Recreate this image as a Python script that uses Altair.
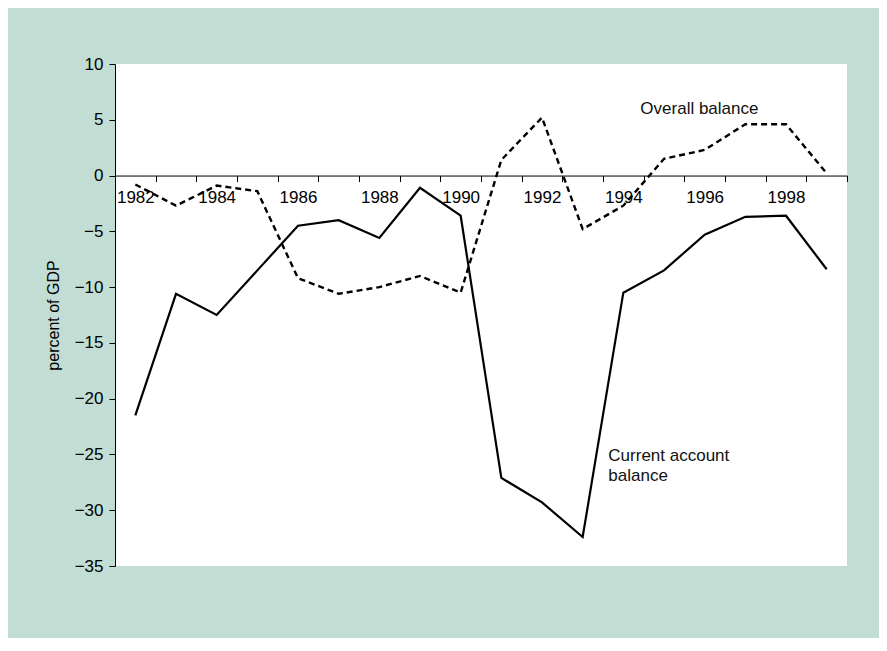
import altair as alt
import pandas as pd

years = list(range(1982, 2000))
current_account = [-21.5, -10.6, -12.5, -8.5, -4.5, -4.0, -5.6, -1.1, -3.6,
                   -27.1, -29.3, -32.4, -10.5, -8.5, -5.3, -3.7, -3.6, -8.4]
overall_balance = [-0.8, -2.7, -0.9, -1.4, -9.2, -10.6, -10.0, -9.0, -10.5,
                   1.4, 5.2, -4.8, -2.7, 1.5, 2.3, 4.6, 4.6, 0.2]
y_ticks = [-35, -30, -25, -20, -15, -10, -5, 0, 5, 10]

ann_text = ["Overall balance", "Current account", "balance"]
ann_year = [1994, 1994, 1994]
ann_value = [5.95, -25.15, -26.95]
ann_dx = [17, -15, -15]

df = pd.DataFrame({"year": years, "ca": current_account, "ob": overall_balance})
ann = pd.DataFrame({"text": ann_text, "year": ann_year, "value": ann_value})

W, H = 732, 502
zero_off = -(H - H * 10 / 45)

x_scale = alt.Scale(paddingInner=0, paddingOuter=0, domain=years)
x_enc = alt.X(
    "year:O",
    scale=x_scale,
    axis=alt.Axis(
        title=None, orient="bottom", offset=zero_off, labelAngle=0,
        tickBand="extent", tickSize=6, tickColor="black", domainColor="black",
        domainWidth=1, tickWidth=1, labelPadding=8, labelFontSize=17,
        labelFont="Liberation Sans", labelColor="black",
        labelExpr="datum.value % 2 == 0 ? datum.label : ''",
    ),
)
y_scale = alt.Scale(domain=[-35, 10], nice=False, zero=False)
y_axis = alt.Axis(
    values=y_ticks, title="percent of GDP", tickSize=6, tickColor="black",
    domainColor="black", labelPadding=6, labelFontSize=17,
    labelFont="Liberation Sans", labelColor="black", grid=False,
    titleFont="Liberation Sans", titleFontSize=16, titleFontWeight="normal",
    titleColor="black", titleAngle=-90, titleX=-62, titleY=H / 2,
    titleBaseline="middle", titleAlign="center",
)

ca_line = alt.Chart(df).mark_line(color="black", strokeWidth=2.2).encode(
    x=x_enc, y=alt.Y("ca:Q", scale=y_scale, axis=y_axis)
)
ob_line = alt.Chart(df).mark_line(color="black", strokeWidth=2.4, strokeDash=[6, 4]).encode(
    x=x_enc, y=alt.Y("ob:Q", scale=y_scale, axis=y_axis)
)

labels = alt.layer(*[
    alt.Chart(ann.iloc[[i]]).mark_text(
        align="left", baseline="middle", fontSize=17, font="Liberation Sans",
        color="#111", dx=int(ann_dx[i])
    ).encode(
        x=alt.X("year:O", scale=x_scale),
        y=alt.Y("value:Q", scale=y_scale),
        text="text:N",
    )
    for i in range(len(ann_text))
])

chart = alt.layer(ob_line, ca_line, labels).properties(
    width=W, height=H,
    background="#c2ddd3",
    autosize=alt.AutoSizeParams(type="none"),
    padding={"left": 107, "top": 56, "right": 32, "bottom": 72},
).configure_view(fill="white", stroke=None)

chart.save("out.html", embed_options={"renderer": "svg", "actions": False})
